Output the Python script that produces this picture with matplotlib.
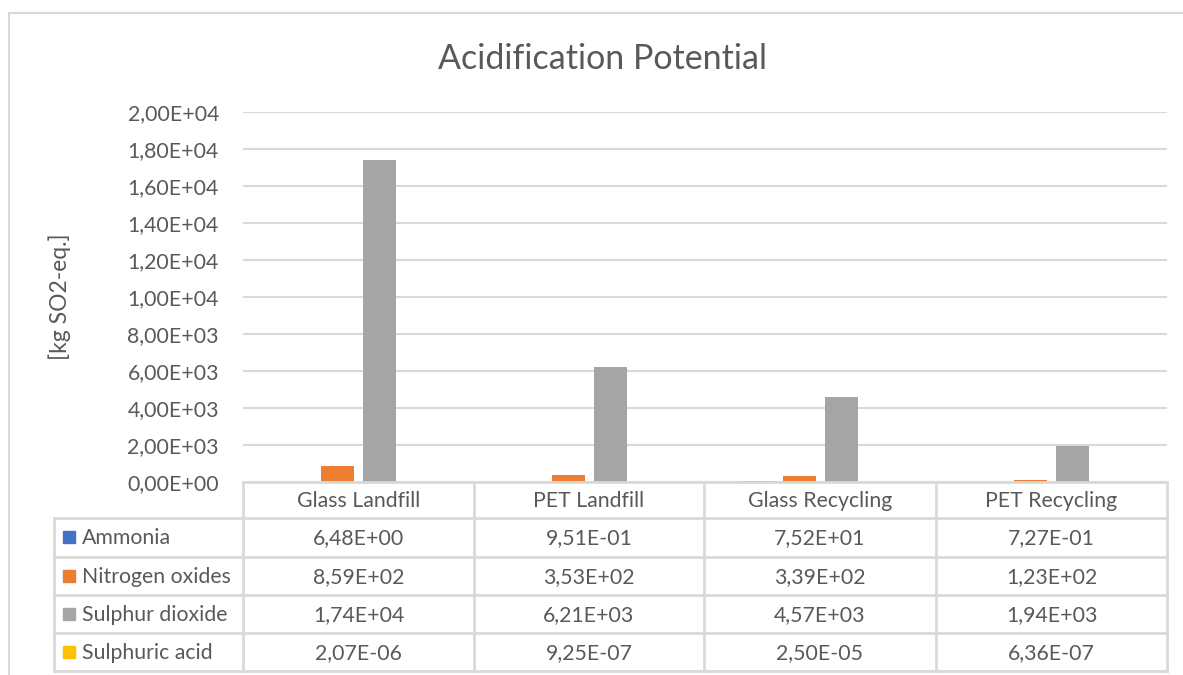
import matplotlib
matplotlib.use("Agg")
import matplotlib.pyplot as plt
import numpy as np

categories = ["Glass Landfill", "PET Landfill", "Glass Recycling", "PET Recycling"]
series_names = ["Ammonia", "Nitrogen oxides", "Sulphur dioxide", "Sulphuric acid"]
ammonia = [6.48, 0.951, 75.2, 0.727]
nitrogen_oxides = [859, 353, 339, 123]
sulphur_dioxide = [17400, 6210, 4570, 1940]
sulphuric_acid = [2.07e-6, 9.25e-7, 2.50e-5, 6.36e-7]
series_values = [ammonia, nitrogen_oxides, sulphur_dioxide, sulphuric_acid]
colors = ["#4472C4", "#ED7D31", "#A5A5A5", "#FFC000"]
y_ticks = list(range(0, 20001, 2000))

plt.rcParams['font.family'] = ['Lato', 'DejaVu Sans']
W, H = 1183, 675
fig = plt.figure(figsize=(W / 100, H / 100), dpi=100)
txt = "#595959"
grid_c = "#D9D9D9"

# plot area in pixels
L, R, T, B = 243, 1167, 112, 482
ax = fig.add_axes([L / W, (H - B) / H, (R - L) / W, (B - T) / H])
x = np.arange(len(categories))
pitch = 42 / 231
bw = 33 / 231
for i, (name, vals, c) in enumerate(zip(series_names, series_values, colors)):
    ax.bar(x + (i - 1.5) * pitch, vals, width=bw, color=c, zorder=3, label=name)
ax.set_xlim(-0.5, len(categories) - 0.5)
ax.set_ylim(0, 20000)
ax.set_yticks(y_ticks)
ax.set_yticklabels([f"{v:.2E}".replace(".", ",") for v in y_ticks])
ax.tick_params(axis='y', length=0, pad=17.3, labelsize=15.3, labelcolor=txt)
ax.set_xticks([])
for s in ax.spines.values():
    s.set_visible(False)
ax.yaxis.grid(True, color=grid_c, linewidth=1.5, zorder=0)
ax.set_axisbelow(True)

# overlay in pixel coords
ov = fig.add_axes([0, 0, 1, 1], zorder=5)
ov.set_xlim(0, W)
ov.set_ylim(H, 0)
ov.axis("off")
ov.patch.set_alpha(0)

# outer border
ov.plot([9, 9, W], [H, 13, 13], color=grid_c, lw=1.5)

ov.text(603, 59, "Acidification Potential", ha="center", va="center",
        fontsize=24.5, color=txt)
ov.text(60, 297, "[kg SO2-eq.]", ha="center", va="center", rotation=90,
        fontsize=16.5, color=txt)

cols = [243, 474, 704, 936, 1167]
rows = [482, 518, 556.5, 595, 633, 671]
lc = "#D9D9D9"
lw = 2
ov.plot([cols[0], cols[-1]], [rows[0], rows[0]], color=lc, lw=lw)
for r in rows[1:]:
    ov.plot([54, cols[-1]], [r, r], color=lc, lw=lw)
for cx in cols:
    ov.plot([cx, cx], [rows[0], rows[-1]], color=lc, lw=lw)
ov.plot([54, 54], [rows[1], rows[-1]], color=lc, lw=lw)

fs = 15.3
for j, cat in enumerate(categories):
    ov.text((cols[j] + cols[j + 1]) / 2, (rows[0] + rows[1]) / 2 + 1, cat,
            ha="center", va="center", fontsize=fs, color=txt)
for i, (name, vals, c) in enumerate(zip(series_names, series_values, colors)):
    yc = (rows[i + 1] + rows[i + 2]) / 2
    ov.add_patch(plt.Rectangle((63, yc - 6), 12, 12, color=c))
    ov.text(82, yc + 1, name, ha="left", va="center", fontsize=fs, color=txt)
    for j, v in enumerate(vals):
        ov.text((cols[j] + cols[j + 1]) / 2, yc + 1, f"{v:.2E}".replace(".", ","),
                ha="center", va="center", fontsize=fs, color=txt)

fig.savefig("out.png", dpi=100)
